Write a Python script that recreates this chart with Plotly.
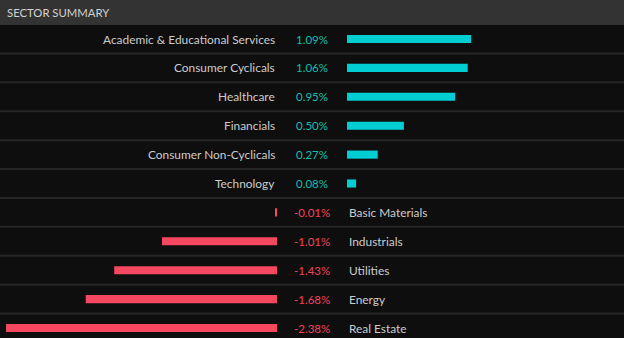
import plotly.graph_objects as go

# Sector performance, in percent
sectors = [
    "Academic & Educational Services", "Consumer Cyclicals", "Healthcare",
    "Financials", "Consumer Non-Cyclicals", "Technology", "Basic Materials",
    "Industrials", "Utilities", "Energy", "Real Estate",
]
changes = [1.09, 1.06, 0.95, 0.50, 0.27, 0.08, -0.01, -1.01, -1.43, -1.68, -2.38]
title_text = "SECTOR SUMMARY"

W, H = 624, 338
BG = "#0e0e0e"
HEADER = "#333333"
GRID = "#262626"
POS = "#00ced3"
NEG = "#f5475f"
POS_TXT = "#14bfae"
NEG_TXT = "#f2435a"
LABEL = "#cccccc"
FONT = "Lato"

PX_PER_PCT = 113.85
neg_end = 277      # pixel where negative bars end (zero)
pos_start = 347    # pixel where positive bars start (zero)
label_mid = 312    # centre of the percentage column
row0, pitch = 39, 28.9

pos_idx = [i for i, v in enumerate(changes) if v >= 0]
neg_idx = [i for i, v in enumerate(changes) if v < 0]

fig = go.Figure()
fig.add_trace(go.Bar(
    y=[sectors[i] for i in neg_idx], x=[changes[i] for i in neg_idx],
    orientation="h", marker=dict(color=NEG, line=dict(width=0)),
    width=0.28, xaxis="x", yaxis="y", hoverinfo="skip",
))
fig.add_trace(go.Bar(
    y=[sectors[i] for i in pos_idx], x=[changes[i] for i in pos_idx],
    orientation="h", marker=dict(color=POS, line=dict(width=0)),
    width=0.28, xaxis="x2", yaxis="y", hoverinfo="skip",
))

# y range such that row k sits at pixel row0 + k*pitch
y_top = -row0 / pitch
y_bot = (H - row0) / pitch

shapes = [
    dict(type="rect", xref="paper", yref="paper", x0=0, x1=1,
         y0=1 - 25 / H, y1=1, fillcolor=HEADER, line=dict(width=0), layer="below"),
]
for k in range(len(sectors) - 1):
    shapes.append(dict(type="line", xref="paper", yref="y", x0=0, x1=1,
                       y0=k + 0.5, y1=k + 0.5, line=dict(color=GRID, width=2),
                       layer="below"))

annotations = [
    dict(text=title_text, xref="paper", yref="paper", x=5 / W, y=1 - 12.5 / H,
         xanchor="left", yanchor="middle", showarrow=False,
         font=dict(family=FONT, size=11.3, color="#d2d2d2")),
]
for i, (name, v) in enumerate(zip(sectors, changes)):
    annotations.append(dict(
        text=f"{v:.2f}%", xref="paper", yref="y", x=label_mid / W, y=name,
        xanchor="center", yanchor="middle", showarrow=False,
        font=dict(family=FONT, size=11.5, color=POS_TXT if v >= 0 else NEG_TXT),
    ))
    if v >= 0:
        annotations.append(dict(
            text=name, xref="paper", yref="y", x=neg_end / W, y=name,
            xanchor="right", yanchor="middle", showarrow=False,
            font=dict(family=FONT, size=11.9, color=LABEL),
        ))
    else:
        annotations.append(dict(
            text=name, xref="paper", yref="y", x=pos_start / W, y=name,
            xanchor="left", yanchor="middle", showarrow=False,
            font=dict(family=FONT, size=11.9, color=LABEL),
        ))

span = neg_end / PX_PER_PCT
fig.update_layout(
    width=W, height=H, margin=dict(l=0, r=0, t=0, b=0),
    paper_bgcolor=BG, plot_bgcolor=BG, showlegend=False, barmode="overlay",
    xaxis=dict(domain=[0, neg_end / W], range=[-span, 0], visible=False, fixedrange=True),
    xaxis2=dict(domain=[pos_start / W, 1], range=[0, (W - pos_start) / PX_PER_PCT],
                visible=False, fixedrange=True),
    yaxis=dict(categoryorder="array", categoryarray=sectors, range=[y_bot, y_top],
               visible=False, fixedrange=True),
    shapes=shapes, annotations=annotations,
)

fig.write_html("out.html", config={"displayModeBar": False})
